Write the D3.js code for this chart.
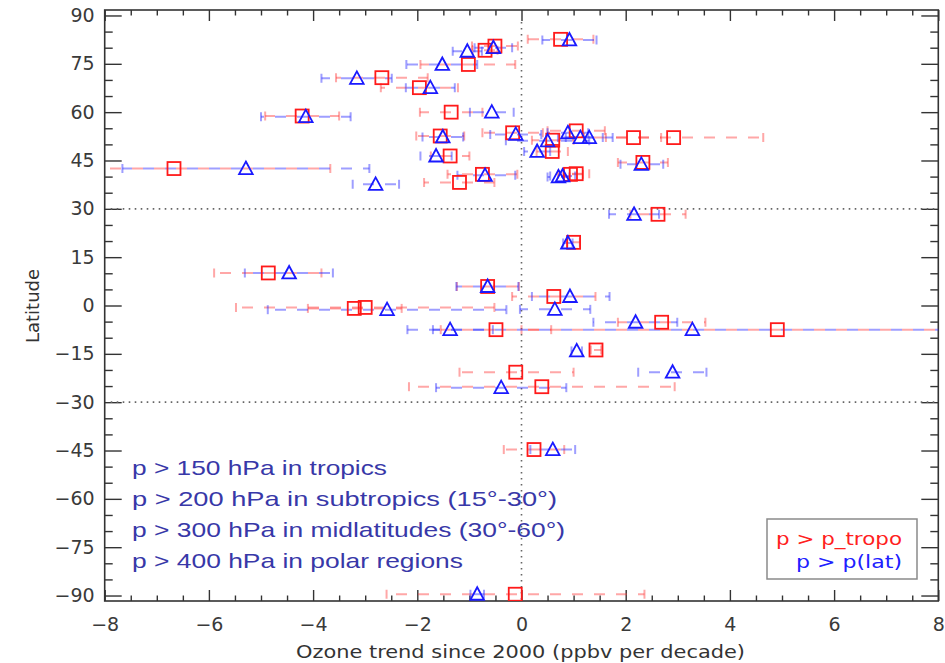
<!DOCTYPE html>
<html>
<head>
<meta charset="utf-8">
<script src="https://cdn.jsdelivr.net/npm/d3@7"></script>
<style>
  html, body { margin: 0; padding: 0; background: #fff; }
  svg { display: block; }
</style>
</head>
<body>
<div id="chart"></div>
<script>
// ---------------- DATA ----------------
// p > p_tropo (red squares): latitude, trend, error-bar low, error-bar high
const redLat = [82.6, 80.5, 79.2, 74.8, 70.7, 67.6, 60.0, 58.8, 54.2, 53.6, 52.6, 52.1, 52.1, 51.3, 47.8, 46.4, 44.4, 42.5, 40.9, 40.7, 40.7, 38.2, 28.3, 19.6, 10.1, 5.9, 2.8, -0.9, -0.6, -5.2, -7.5, -7.5, -13.8, -20.7, -25.2, -44.7, -89.6];
const redVal = [0.75, -0.51, -0.70, -1.02, -2.68, -1.96, -1.35, -4.21, 1.05, -0.17, -1.56, 2.15, 2.92, 0.60, 0.59, -1.37, 2.33, -6.67, 1.05, 0.94, -0.75, -1.19, 2.62, 1.00, -4.86, -0.65, 0.62, -3.21, -3.00, 2.69, -0.49, 4.91, 1.43, -0.11, 0.39, 0.24, -0.12];
const redLo  = [0.12, -0.95, -0.94, -1.94, -3.56, -2.70, -1.95, -4.92, 0.50, -0.75, -2.02, 1.62, 1.20, 0.20, 0.29, -1.74, 1.85, -9.67, 0.80, 0.70, -1.42, -1.87, 2.09, 0.88, -5.90, -1.24, -0.18, -4.10, -5.48, 1.85, -1.55, 0.00, 1.33, -1.19, -2.16, -0.34, -2.59];
const redHi  = [1.38, -0.07, -0.46, -0.12, -1.80, -1.22, -0.75, -3.50, 1.60, 0.41, -1.10, 2.68, 4.64, 1.00, 0.89, -1.00, 2.81, -3.67, 1.30, 1.18, -0.08, -0.52, 3.15, 1.12, -3.84, -0.05, 1.42, -2.30, -0.52, 3.53, 0.57, 9.82, 1.53, 1.00, 2.94, 0.82, 2.36];

// p > p(lat) (blue triangles)
const blueLat = [82.4, 80.0, 78.9, 74.8, 70.5, 67.6, 60.0, 58.6, 53.6, 53.1, 52.3, 52.1, 52.1, 51.1, 47.8, 46.4, 43.8, 42.5, 40.2, 39.9, 40.4, 37.6, 28.3, 19.4, 10.1, 5.9, 2.8, -1.3, -1.2, -5.2, -7.5, -7.5, -14.1, -20.7, -25.5, -44.7, -89.6];
const blueVal = [0.92, -0.54, -1.04, -1.52, -3.16, -1.75, -0.57, -4.14, 0.89, -0.11, -1.51, 1.13, 1.30, 0.50, 0.30, -1.64, 2.30, -5.29, 0.79, 0.71, -0.70, -2.80, 2.16, 0.89, -4.46, -0.65, 0.93, -2.58, 0.64, 2.19, -1.37, 3.28, 1.06, 2.90, -0.39, 0.60, -0.85];
const blueLo  = [0.40, -0.90, -1.32, -2.21, -3.84, -2.22, -0.99, -5.00, 0.50, -0.60, -1.90, 0.70, 0.85, -0.30, 0.05, -1.94, 1.90, -7.66, 0.55, 0.50, -1.23, -3.24, 1.68, 0.80, -5.31, -1.25, 0.20, -4.87, -0.03, 1.38, -2.19, -1.70, 0.96, 2.24, -1.64, 0.17, -0.98];
const blueHi  = [1.44, -0.18, -0.76, -0.85, -2.49, -1.28, -0.15, -3.28, 1.28, 0.38, -1.12, 1.56, 1.75, 1.30, 0.55, -1.34, 2.72, -2.92, 1.03, 0.92, -0.12, -2.35, 2.64, 0.98, -3.62, -0.06, 1.69, -0.29, 1.32, 2.99, -0.55, 8.26, 1.16, 3.55, 0.86, 1.03, -0.72];

// axes / ticks
const xMajor = [-8, -6, -4, -2, 0, 2, 4, 6, 8];
const xMinor = d3.range(-8, 8.01, 0.5).filter(v => Math.abs(v % 2) > 1e-9);
const yMajor = [-90, -75, -60, -45, -30, -15, 0, 15, 30, 45, 60, 75, 90];
const yMinor = d3.range(-90, 90.1, 5).filter(v => v % 15 !== 0);
const refLats = [30, -30];
const refTrend = [0];

const notes = [
  "p > 150 hPa in tropics",
  "p > 200 hPa in subtropics (15°-30°)",
  "p > 300 hPa in midlatitudes (30°-60°)",
  "p > 400 hPa in polar regions"
];
const noteWidths = [255, 425, 433, 331];
const legendLabels = ["p > p_tropo", "p > p(lat)"];
const xTitle = "Ozone trend since 2000 (ppbv per decade)";
const yTitle = "Latitude";

// ---------------- DRAW ----------------
const W = 945, H = 663;
const L = 104.7, R = 938.3, T = 10, B = 601;
const x = d3.scaleLinear().domain([-8, 8]).range([L, R]);
const y = d3.scaleLinear().domain([-91.7, 91.7]).range([B, T]);

const svg = d3.select("#chart").append("svg").attr("width", W).attr("height", H)
  .style("font-family", "'DejaVu Sans', sans-serif");

svg.append("defs").append("clipPath").attr("id", "clip")
  .append("rect").attr("x", L).attr("y", T).attr("width", R - L).attr("height", B - T);

const fmt = d => d < 0 ? "\u2212" + Math.abs(d) : String(d);

function styleAxis(g) {
  g.select(".domain").remove();
  g.selectAll(".tick line").attr("stroke", "#333").attr("stroke-width", 1.4);
  g.selectAll(".tick text").attr("fill", "#3a3a3a").style("font-size", "19px")
    .style("font-family", "'DejaVu Sans', sans-serif");
}

// bottom
svg.append("g").attr("transform", `translate(0,${B})`)
  .call(d3.axisBottom(x).tickValues(xMajor).tickSize(-11).tickPadding(17).tickFormat(fmt)).call(styleAxis);
svg.append("g").attr("transform", `translate(0,${B})`)
  .call(d3.axisBottom(x).tickValues(xMinor).tickSize(-5.5).tickFormat("")).call(styleAxis);
// top
svg.append("g").attr("transform", `translate(0,${T})`)
  .call(d3.axisTop(x).tickValues(xMajor).tickSize(-11).tickFormat("")).call(styleAxis);
svg.append("g").attr("transform", `translate(0,${T})`)
  .call(d3.axisTop(x).tickValues(xMinor).tickSize(-5.5).tickFormat("")).call(styleAxis);
// left
svg.append("g").attr("transform", `translate(${L},0)`)
  .call(d3.axisLeft(y).tickValues(yMajor).tickSize(-17).tickPadding(10).tickFormat(fmt)).call(styleAxis);
svg.append("g").attr("transform", `translate(${L},0)`)
  .call(d3.axisLeft(y).tickValues(yMinor).tickSize(-8).tickFormat("")).call(styleAxis);
// right
svg.append("g").attr("transform", `translate(${R},0)`)
  .call(d3.axisRight(y).tickValues(yMajor).tickSize(-17).tickFormat("")).call(styleAxis);
svg.append("g").attr("transform", `translate(${R},0)`)
  .call(d3.axisRight(y).tickValues(yMinor).tickSize(-8).tickFormat("")).call(styleAxis);

// frame
svg.append("rect").attr("x", L).attr("y", T).attr("width", R - L).attr("height", B - T)
  .attr("fill", "none").attr("stroke", "#333").attr("stroke-width", 1.6);

// reference dotted lines
const ref = svg.append("g").attr("stroke", "#666").attr("stroke-width", 1.6)
  .attr("stroke-dasharray", "1.6,4.4");
ref.selectAll("line.h").data(refLats).join("line").attr("class", "h")
  .attr("x1", x(-8) + 6).attr("x2", x(8)).attr("y1", d => y(d)).attr("y2", d => y(d));
ref.selectAll("line.v").data(refTrend).join("line").attr("class", "v")
  .attr("x1", d => x(d)).attr("x2", d => x(d)).attr("y1", T + 12).attr("y2", B);

// error bars (dash pattern anchored to absolute x so red/blue dashes interleave)
const PERIOD = 22;
function errorBars(lat, lo, hi, color, phase) {
  const data = lat.map((l, i) => ({ lat: l, lo: lo[i], hi: hi[i] }));
  const g = svg.append("g").attr("clip-path", "url(#clip)");
  g.selectAll("line.bar").data(data).join("line").attr("class", "bar")
    .attr("x1", d => x(d.lo)).attr("x2", d => x(d.hi))
    .attr("y1", d => y(d.lat)).attr("y2", d => y(d.lat))
    .attr("stroke", color).attr("stroke-width", 2)
    .attr("stroke-dasharray", "11,11")
    .attr("stroke-dashoffset", d => ((x(d.lo) + phase) % PERIOD + PERIOD) % PERIOD);
  const caps = data.flatMap(d => [{ v: d.lo, lat: d.lat }, { v: d.hi, lat: d.lat }]);
  g.selectAll("line.cap").data(caps).join("line").attr("class", "cap")
    .attr("x1", d => x(d.v)).attr("x2", d => x(d.v))
    .attr("y1", d => y(d.lat) - 4.5).attr("y2", d => y(d.lat) + 4.5)
    .attr("stroke", color).attr("stroke-width", 2);
}
errorBars(redLat, redLo, redHi, "rgba(255,60,60,0.45)", 0);
errorBars(blueLat, blueLo, blueHi, "rgba(40,40,255,0.45)", 11);

// markers
const redPts = redLat.map((l, i) => ({ lat: l, v: redVal[i] }));
const bluePts = blueLat.map((l, i) => ({ lat: l, v: blueVal[i] }));
svg.append("g").attr("clip-path", "url(#clip)")
  .selectAll("rect").data(redPts).join("rect")
  .attr("x", d => x(d.v) - 6.5).attr("y", d => y(d.lat) - 6.5)
  .attr("width", 13).attr("height", 13)
  .attr("fill", "none").attr("stroke", "#ff1a1a").attr("stroke-width", 1.8);
svg.append("g").attr("clip-path", "url(#clip)")
  .selectAll("path").data(bluePts).join("path")
  .attr("transform", d => `translate(${x(d.v)},${y(d.lat)})`)
  .attr("d", "M0,-7 L6.8,5.5 L-6.8,5.5 Z")
  .attr("fill", "none").attr("stroke", "#1a1aff").attr("stroke-width", 1.8)
  .attr("stroke-linejoin", "miter");

// annotation text
const noteY = [475, 506, 537, 568];
svg.append("g").selectAll("text").data(notes).join("text")
  .attr("x", 132).attr("y", (d, i) => noteY[i])
  .attr("textLength", (d, i) => noteWidths[i]).attr("lengthAdjust", "spacingAndGlyphs")
  .attr("fill", "#3838a8")
  .style("font-family", "'Liberation Sans', Arial, sans-serif").style("font-size", "21px")
  .text(d => d);

// legend
svg.append("rect").attr("x", 767).attr("y", 519).attr("width", 150).attr("height", 60)
  .attr("fill", "#fff").attr("stroke", "#8a8a8a").attr("stroke-width", 1.5);
const legColors = ["#ff2020", "#2020ff"];
const legX = [776, 796], legY = [545, 568], legW = [126, 106];
svg.append("g").selectAll("text").data(legendLabels).join("text")
  .attr("x", (d, i) => legX[i]).attr("y", (d, i) => legY[i])
  .attr("textLength", (d, i) => legW[i]).attr("lengthAdjust", "spacingAndGlyphs")
  .attr("fill", (d, i) => legColors[i]).style("font-size", "17px")
  .text(d => d);

// axis titles
svg.append("text").attr("x", 520.5).attr("y", 658).attr("text-anchor", "middle")
  .attr("textLength", 449).attr("lengthAdjust", "spacingAndGlyphs")
  .attr("fill", "#333").style("font-size", "18px").text(xTitle);
svg.append("text").attr("transform", "translate(39,306) rotate(-90)").attr("text-anchor", "middle")
  .attr("fill", "#333").style("font-size", "18px").text(yTitle);
</script>
</body>
</html>
